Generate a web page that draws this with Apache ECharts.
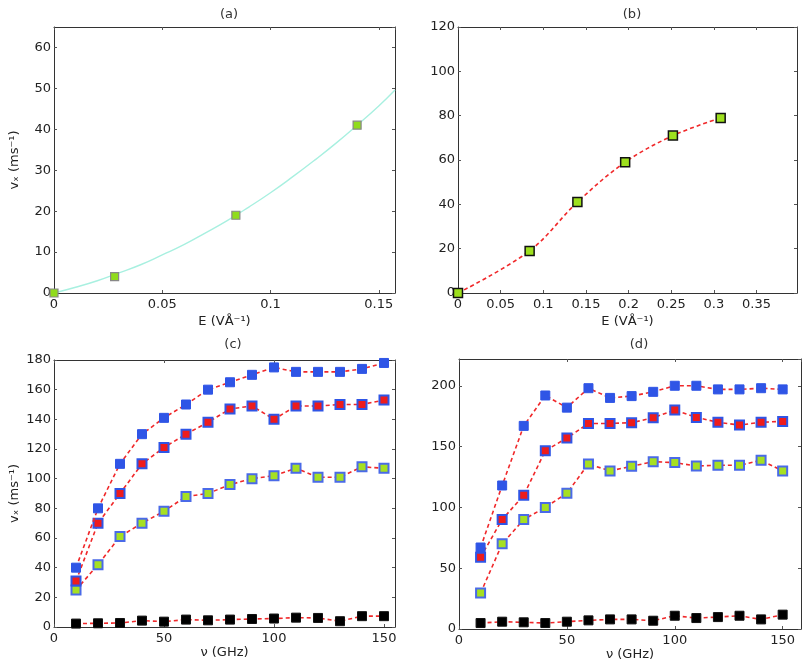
<!DOCTYPE html>
<html><head><meta charset="utf-8">
<script src="https://cdn.jsdelivr.net/npm/echarts@6/dist/echarts.min.js"></script>
<style>html,body{margin:0;padding:0;background:#fff}#c{width:805px;height:663px}</style>
</head><body><div id="c"></div>
<script>
// Panel (a): fitted curve read along the cyan line, and measured points
const aCurveE = [0, 0.01, 0.02, 0.03, 0.04, 0.05, 0.06, 0.07, 0.08, 0.09, 0.10, 0.11, 0.12, 0.13, 0.14, 0.15, 0.1575];
const aCurveV = [0, 1.4, 3.0, 4.9, 6.9, 9.3, 11.8, 14.7, 17.7, 21.0, 24.5, 28.3, 32.3, 36.5, 41.0, 45.7, 49.6];
const aPtsE = [0, 0.028, 0.084, 0.14];
const aPtsV = [0, 4, 19, 41];
// Panel (b)
const bE = [0, 0.084, 0.14, 0.196, 0.252, 0.308];
const bV = [0, 19, 41, 59, 71, 79];
// Panels (c), (d): frequency in GHz
const freq = [10, 20, 30, 40, 50, 60, 70, 80, 90, 100, 110, 120, 130, 140, 150];
const cBlue  = [40, 80, 110, 130, 141, 150, 160, 165, 170, 175, 172, 172, 172, 174, 178];
const cRed   = [31, 70, 90, 110, 121, 130, 138, 147, 149, 140, 149, 149, 150, 150, 153];
const cGreen = [25, 42, 61, 70, 78, 88, 90, 96, 100, 102, 107, 101, 101, 108, 107];
const cBlack = [2.3, 2.5, 2.7, 4.3, 3.6, 5, 4.5, 5, 5.4, 5.7, 6.3, 6.1, 3.9, 7.3, 7.3];
const dBlue  = [67, 118, 167, 192, 182, 198, 190, 191.5, 195, 200, 200, 197, 197, 198, 197];
const dRed   = [59, 90, 110, 146.6, 157, 169, 169, 169.6, 173.7, 180, 174, 170, 167.7, 170, 170.7];
const dGreen = [29.5, 70, 90, 100, 111.6, 135.7, 130, 133.8, 137.6, 136.8, 134, 134.6, 134.6, 138.7, 130];
const dBlack = [4.9, 6, 5.5, 4.9, 6, 7.1, 7.9, 7.9, 6.8, 10.9, 9, 9.8, 10.9, 7.9, 11.8];

const titles = ['(a)', '(b)', '(c)', '(d)'];
const xNameE = 'E (VÅ\u207B\u00B9)';
const xNameF = '\u03BD (GHz)';
const yName = 'v\u2093 (ms\u207B\u00B9)';

const FONT = 'DejaVu Sans';
const TXT = '#222';
const BLUE = '#2f55e6';
const RED = '#ee1c1c';
const GREEN = '#a6e022';
const LINE_RED = '#f0282a';

const zip = (xs, ys) => xs.map((x, i) => [x, ys[i]]);

const grids = [
  {left: 54, top: 27, width: 341, height: 266},
  {left: 458, top: 27, width: 339, height: 266},
  {left: 54, top: 360, width: 341, height: 267},
  {left: 459, top: 359, width: 342, height: 270}
];

const xSpec = [
  {min: 0, max: 0.1575, interval: 0.05, name: xNameE, gap: 22, showMax: false},
  {min: 0, max: 0.3975, interval: 0.05, name: xNameE, gap: 22, showMax: false},
  {min: 0, max: 155, interval: 50, name: xNameF, gap: 17, showMax: false},
  {min: 0, max: 158.5, interval: 50, name: xNameF, gap: 17, showMax: false}
];
const ySpec = [
  {min: 0, max: 65, interval: 10, name: yName, showMax: false},
  {min: 0, max: 120, interval: 20, name: '', showMax: true},
  {min: 0, max: 180, interval: 20, name: yName, showMax: true},
  {min: 0, max: 222, interval: 50, name: '', showMax: false}
];

const frameLine = {show: true, onZero: false, lineStyle: {color: '#333', width: 1}};
const tick = {show: true, inside: true, length: 3, lineStyle: {color: '#555'}};
const xAxes = [], yAxes = [];
xSpec.forEach((s, i) => {
  xAxes.push({
    type: 'value', gridIndex: i, min: s.min, max: s.max, interval: s.interval,
    name: s.name, nameLocation: 'middle', nameGap: s.gap,
    nameTextStyle: {fontFamily: FONT, fontSize: 13, color: TXT},
    axisLine: frameLine, axisTick: tick,
    axisLabel: {fontFamily: FONT, fontSize: 13, color: TXT, margin: 5, showMaxLabel: s.showMax},
    splitLine: {show: false}
  });
  xAxes.push({
    type: 'value', gridIndex: i, position: 'top', min: s.min, max: s.max, interval: s.interval,
    axisLine: frameLine, axisLabel: {show: false}, splitLine: {show: false}, axisTick: tick
  });
});
ySpec.forEach((s, i) => {
  yAxes.push({
    type: 'value', gridIndex: i, min: s.min, max: s.max, interval: s.interval,
    name: s.name, nameLocation: 'middle', nameGap: 33, nameRotate: 90,
    nameTextStyle: {fontFamily: FONT, fontSize: 13, color: TXT},
    axisLine: frameLine, axisTick: tick,
    axisLabel: {fontFamily: FONT, fontSize: 13, color: TXT, margin: 3, showMaxLabel: s.showMax},
    splitLine: {show: false}
  });
  yAxes.push({
    type: 'value', gridIndex: i, position: 'right', min: s.min, max: s.max, interval: s.interval,
    axisLine: frameLine, axisLabel: {show: false}, splitLine: {show: false}, axisTick: tick
  });
});

const dashed = {color: LINE_RED, width: 1.6, type: [4, 3]};
function panelSeries(p, blue, red, green, black) {
  const xi = p * 2, yi = p * 2;
  const mk = (data, fill, border, bw, size, z) => ({
    type: 'line', xAxisIndex: xi, yAxisIndex: yi, data: data, z: z,
    lineStyle: dashed, symbol: 'rect', symbolSize: size, showSymbol: true,
    itemStyle: {color: fill, borderColor: border, borderWidth: bw, opacity: 1},
    emphasis: {disabled: true}, animation: false
  });
  return [
    mk(zip(freq, black), '#000', '#111', 1, 9, 3),
    mk(zip(freq, green), GREEN, '#4a6ae8', 2, 9, 4),
    mk(zip(freq, red), RED, BLUE, 2, 9, 5),
    mk(zip(freq, blue), BLUE, BLUE, 1, 9, 6)
  ];
}

const series = [
  {type: 'line', xAxisIndex: 0, yAxisIndex: 0, data: zip(aCurveE, aCurveV), smooth: true,
   showSymbol: false, symbol: 'none', lineStyle: {color: '#a8f0e0', width: 1.4}, animation: false},
  {type: 'scatter', xAxisIndex: 0, yAxisIndex: 0, data: zip(aPtsE, aPtsV), symbol: 'rect', symbolSize: 8,
   itemStyle: {color: '#90dc1c', borderColor: '#888', borderWidth: 1.2, opacity: 1}, z: 5, animation: false},
  {type: 'line', xAxisIndex: 2, yAxisIndex: 2, data: zip(bE, bV), smooth: 0.35,
   lineStyle: dashed, symbol: 'rect', symbolSize: 9,
   itemStyle: {color: '#9ee01e', borderColor: '#111', borderWidth: 1.5, opacity: 1}, z: 5, animation: false}
].concat(panelSeries(2, cBlue, cRed, cGreen, cBlack), panelSeries(3, dBlue, dRed, dGreen, dBlack));

const titlePos = [[224, 3], [627, 3], [228, 333], [634, 333]];
const titleOpts = titles.map((t, i) => ({
  text: t, left: titlePos[i][0], top: titlePos[i][1], textAlign: 'center',
  textStyle: {fontFamily: FONT, fontSize: 13, fontWeight: 'normal', color: '#333'}
}));

const chart = echarts.init(document.getElementById('c'), null, {renderer: 'canvas'});
chart.setOption({
  animation: false,
  backgroundColor: '#fff',
  title: titleOpts,
  grid: grids,
  xAxis: xAxes,
  yAxis: yAxes,
  series: series
});
</script>
</body></html>
